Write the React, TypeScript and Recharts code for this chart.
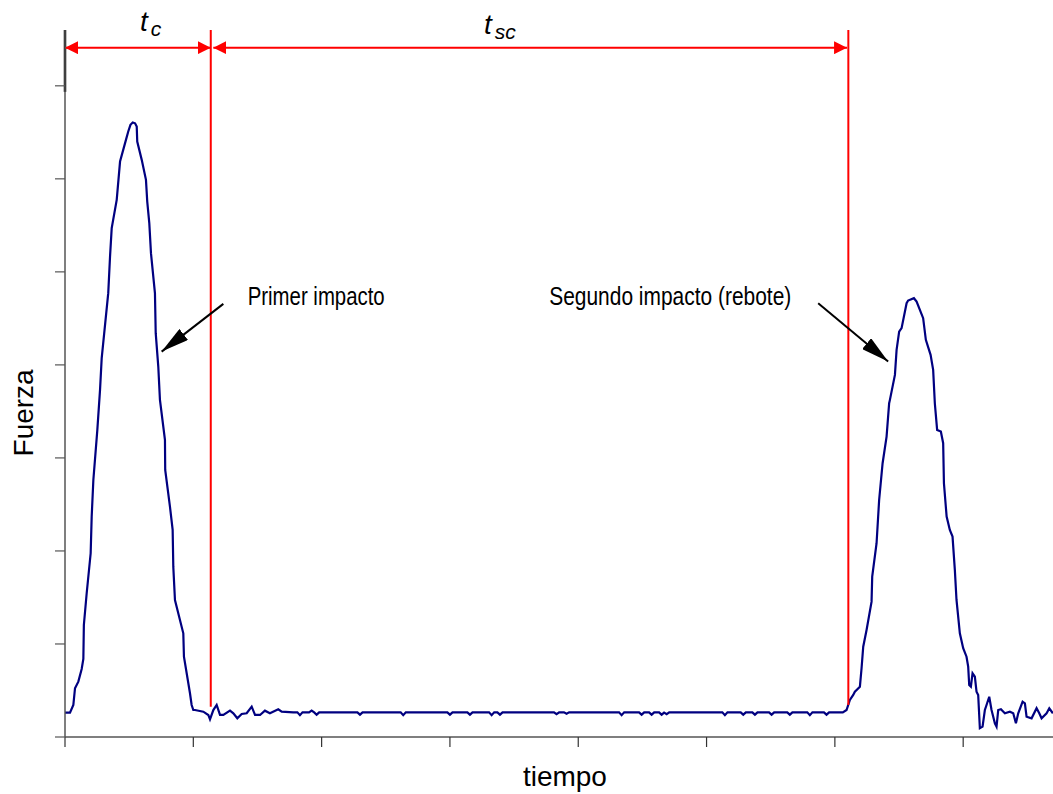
import { LineChart, Line, XAxis, YAxis, ReferenceLine, ReferenceDot } from 'recharts';

// Primer impacto (subida, pico, caída y oscilaciones)
const tPrimer = [
  0, 0.039, 0.065, 0.078, 0.104, 0.13, 0.143, 0.147, 0.169, 0.2, 0.208, 0.221, 0.252, 0.273, 0.286,
  0.337, 0.351, 0.364, 0.403, 0.429, 0.475, 0.493, 0.51, 0.528, 0.546, 0.559, 0.563, 0.598, 0.631,
  0.641, 0.657, 0.67, 0.701, 0.707, 0.727, 0.74, 0.779, 0.781, 0.818, 0.839, 0.844, 0.857, 0.922,
  0.927, 0.974, 0.987, 1.0, 1.013, 1.078, 1.117, 1.13, 1.156, 1.182, 1.208, 1.234, 1.286, 1.312,
  1.343, 1.377, 1.416, 1.455, 1.481, 1.52, 1.558, 1.597, 1.662, 1.689, 1.779,
];
const fPrimer = [
  0.261, 0.261, 0.344, 0.524, 0.595, 0.731, 0.839, 1.204, 1.545, 1.975, 2.369, 2.763, 3.301, 3.731, 4.072,
  4.771, 5.165, 5.47, 5.774, 6.186, 6.419, 6.509, 6.581, 6.605, 6.597, 6.562, 6.401, 6.204, 5.989,
  5.756, 5.524, 5.201, 4.771, 4.341, 3.982, 3.624, 3.194, 2.871, 2.476, 2.226, 1.831, 1.473, 1.115,
  0.863, 0.47, 0.344, 0.29, 0.29, 0.272, 0.237, 0.19, 0.29, 0.344, 0.237, 0.237, 0.283, 0.255,
  0.201, 0.247, 0.255, 0.326, 0.237, 0.237, 0.283, 0.255, 0.298, 0.272, 0.265,
];

// Reposo entre impactos
const tReposo = [
  1.811, 1.831, 1.851, 1.902, 1.922, 1.942, 1.961, 1.981, 2.279, 2.299, 2.319, 2.616, 2.636, 2.656,
  2.98, 3.0, 3.02, 3.136, 3.156, 3.176, 3.305, 3.325, 3.345, 3.37, 3.39, 3.41, 3.811, 3.831, 3.851,
  3.889, 3.909, 3.929, 4.318, 4.338, 4.358, 4.474, 4.494, 4.514, 4.552, 4.572, 4.592, 4.63, 4.65,
  4.669, 4.689, 4.709, 5.123, 5.143, 5.163, 5.266, 5.286, 5.306, 5.357, 5.377, 5.397, 5.487, 5.507,
  5.527, 5.629, 5.649, 5.669, 5.785, 5.805, 5.825, 5.915, 5.935, 5.955, 6.062,
];
const fReposo = [
  0.265, 0.235, 0.265, 0.265, 0.285, 0.265, 0.24, 0.265, 0.265, 0.24, 0.265, 0.265, 0.235, 0.265,
  0.265, 0.24, 0.265, 0.265, 0.24, 0.265, 0.265, 0.235, 0.265, 0.265, 0.24, 0.265, 0.265, 0.245, 0.265,
  0.265, 0.25, 0.265, 0.265, 0.235, 0.265, 0.265, 0.24, 0.265, 0.265, 0.24, 0.265, 0.265, 0.24,
  0.262, 0.245, 0.265, 0.265, 0.235, 0.265, 0.265, 0.24, 0.265, 0.265, 0.24, 0.265, 0.265, 0.24,
  0.265, 0.265, 0.24, 0.265, 0.265, 0.235, 0.265, 0.265, 0.24, 0.265, 0.265,
];

// Segundo impacto (rebote)
const tSegundo = [
  6.091, 6.117, 6.143, 6.156, 6.195, 6.208, 6.221, 6.247, 6.286, 6.291, 6.325, 6.345, 6.372, 6.403,
  6.423, 6.429, 6.468, 6.481, 6.501, 6.52, 6.559, 6.571, 6.616, 6.637, 6.688, 6.709, 6.746, 6.766,
  6.779, 6.797, 6.826, 6.844, 6.85, 6.871, 6.896, 6.917, 6.935, 6.948, 6.974, 7.0, 7.026, 7.039,
  7.047, 7.06, 7.073, 7.091, 7.104, 7.117, 7.13, 7.151, 7.169, 7.182, 7.203, 7.221, 7.247, 7.26,
  7.273, 7.294, 7.325, 7.364, 7.39, 7.411, 7.429, 7.463, 7.481, 7.494, 7.533, 7.572, 7.593, 7.611,
  7.65, 7.671, 7.699,
];
const fSegundo = [
  0.29, 0.398, 0.452, 0.487, 0.541, 0.739, 0.971, 1.151, 1.455, 1.724, 2.083, 2.548, 2.943, 3.229,
  3.588, 3.624, 3.892, 4.161, 4.358, 4.395, 4.663, 4.692, 4.717, 4.681, 4.502, 4.269, 4.108, 3.946,
  3.588, 3.301, 3.283, 3.158, 2.728, 2.369, 2.226, 2.154, 1.796, 1.473, 1.115, 0.954, 0.863, 0.756,
  0.559, 0.541, 0.685, 0.648, 0.487, 0.452, 0.094, 0.111, 0.29, 0.344, 0.433, 0.29, 0.147, 0.111,
  0.29, 0.298, 0.255, 0.272, 0.255, 0.147, 0.255, 0.38, 0.362, 0.218, 0.201, 0.309, 0.255, 0.201,
  0.255, 0.309, 0.255,
];

const xTicks = [0, 1, 2, 3, 4, 5, 6, 7];
const yTicks = [0, 1, 2, 3, 4, 5, 6, 7];

// instantes que delimitan tc y tsc
const finContacto = 1.136;
const inicioVuelo = 1.156;
const finVuelo = 6.105;

const toRows = (t: number[], f: number[]) => t.map((v, i) => ({ tiempo: v, fuerza: f[i] }));
const datos = [...toRows(tPrimer, fPrimer), ...toRows(tReposo, fReposo), ...toRows(tSegundo, fSegundo)];

const FONT = "'Liberation Sans', Arial, sans-serif";
const NARROW = "'Liberation Sans Narrow', 'Liberation Sans', Arial, sans-serif";

const noLabel = () => <g />;

const redLine = (withMarkers: boolean) => (p: any) => (
  <line
    x1={p.x1}
    y1={p.y1}
    x2={p.x2}
    y2={p.y2}
    stroke="#ff0000"
    strokeWidth={2}
    markerStart={withMarkers ? 'url(#flechaRoja)' : undefined}
    markerEnd={withMarkers ? 'url(#flechaRoja)' : undefined}
  />
);

const blackArrow = (p: any) => (
  <line x1={p.x1} y1={p.y1} x2={p.x2} y2={p.y2} stroke="#000" strokeWidth={2} markerEnd="url(#flechaNegra)" />
);

export default function App() {
  return (
    <div style={{ position: 'absolute', left: 0, top: 0, width: 1053, height: 794, background: '#fff' }}>
      <LineChart width={1053} height={794} data={datos} margin={{ top: 30, right: 0, bottom: 47, left: 55 }}>
        <defs>
          <marker id="flechaRoja" viewBox="0 0 13 13" refX="13" refY="6.5" markerWidth="13" markerHeight="13"
            markerUnits="userSpaceOnUse" orient="auto-start-reverse">
            <path d="M0,0 L13,6.5 L0,13 z" fill="#ff0000" />
          </marker>
          <marker id="flechaNegra" viewBox="0 0 28 14" refX="28" refY="7" markerWidth="28" markerHeight="14"
            markerUnits="userSpaceOnUse" orient="auto">
            <path d="M0,0 L28,7 L0,14 z" fill="#000" />
          </marker>
        </defs>
        <XAxis
          dataKey="tiempo"
          type="number"
          domain={[0, 7.7]}
          ticks={xTicks}
          tick={noLabel}
          tickSize={10}
          height={10}
          allowDataOverflow
          axisLine={{ stroke: '#555', strokeWidth: 1.5 }}
          tickLine={{ stroke: '#333', strokeWidth: 1.2 }}
        />
        <YAxis
          type="number"
          domain={[0, 7.6]}
          ticks={yTicks}
          tick={noLabel}
          tickSize={10}
          width={10}
          allowDataOverflow
          axisLine={{ stroke: '#555', strokeWidth: 1.5 }}
          tickLine={{ stroke: '#555', strokeWidth: 1.2 }}
        />
        <Line
          type="linear"
          dataKey="fuerza"
          stroke="#000080"
          strokeWidth={2.2}
          dot={false}
          activeDot={false}
          isAnimationActive={false}
        />
        {/* línea de referencia negra sobre el eje */}
        <ReferenceLine segment={[{ x: 0, y: 7.6 }, { x: 0, y: 6.935 }]} ifOverflow="visible"
          shape={(p: any) => <line x1={p.x1} y1={p.y1} x2={p.x2} y2={p.y2} stroke="#000" strokeWidth={2.5} />} />
        {/* líneas verticales rojas */}
        <ReferenceLine segment={[{ x: finContacto, y: 7.6 }, { x: finContacto, y: 0.326 }]} ifOverflow="visible" shape={redLine(false)} />
        <ReferenceLine segment={[{ x: finVuelo, y: 7.6 }, { x: finVuelo, y: 0.344 }]} ifOverflow="visible" shape={redLine(false)} />
        {/* cotas tc y tsc */}
        <ReferenceLine segment={[{ x: 0, y: 7.41 }, { x: finContacto, y: 7.41 }]} ifOverflow="visible" shape={redLine(true)} />
        <ReferenceLine segment={[{ x: inicioVuelo, y: 7.41 }, { x: finVuelo - 0.01, y: 7.41 }]} ifOverflow="visible" shape={redLine(true)} />
        {/* flechas de anotación */}
        <ReferenceLine segment={[{ x: 1.234, y: 4.656 }, { x: 0.753, y: 4.143 }]} ifOverflow="visible" shape={blackArrow} />
        <ReferenceLine segment={[{ x: 5.87, y: 4.663 }, { x: 6.415, y: 4.036 }]} ifOverflow="visible" shape={blackArrow} />
        {/* textos */}
        <ReferenceDot x={0.584} y={7.584} r={0} ifOverflow="visible"
          shape={(p: any) => (
            <text x={p.cx} y={p.cy} fontFamily={FONT} fontStyle="italic" fontSize={28} fill="#000">
              t<tspan fontSize={21} dx={3} dy={5}>c</tspan>
            </text>
          )} />
        <ReferenceDot x={3.265} y={7.56} r={0} ifOverflow="visible"
          shape={(p: any) => (
            <text x={p.cx} y={p.cy} fontFamily={FONT} fontStyle="italic" fontSize={28} fill="#000">
              t<tspan fontSize={21} dx={3} dy={5}>sc</tspan>
            </text>
          )} />
        <ReferenceDot x={1.424} y={4.645} r={0} ifOverflow="visible"
          shape={(p: any) => (
            <text x={p.cx} y={p.cy} fontFamily={NARROW} fontSize={25} fill="#000" textLength={137} lengthAdjust="spacingAndGlyphs">
              Primer impacto
            </text>
          )} />
        <ReferenceDot x={3.774} y={4.645} r={0} ifOverflow="visible"
          shape={(p: any) => (
            <text x={p.cx} y={p.cy} fontFamily={NARROW} fontSize={25} fill="#000" textLength={242} lengthAdjust="spacingAndGlyphs">
              Segundo impacto (rebote)
            </text>
          )} />
        <ReferenceDot x={3.896} y={-0.532} r={0} ifOverflow="visible"
          shape={(p: any) => (
            <text x={p.cx} y={p.cy} fontFamily={FONT} fontSize={28} fill="#000" textAnchor="middle">
              tiempo
            </text>
          )} />
        <ReferenceDot x={-0.249} y={3.484} r={0} ifOverflow="visible"
          shape={(p: any) => (
            <text x={p.cx} y={p.cy} fontFamily={FONT} fontSize={28} fill="#000" textAnchor="middle"
              transform={`rotate(-90 ${p.cx} ${p.cy})`}>
              Fuerza
            </text>
          )} />
      </LineChart>
    </div>
  );
}
